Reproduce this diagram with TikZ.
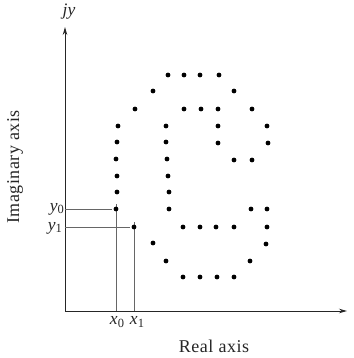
\documentclass[tikz,border=0pt]{standalone}
\usepackage{fontspec}
\setmainfont{Liberation Serif}
\newfontfamily\axislbl[LetterSpace=3]{Liberation Serif}
\usetikzlibrary{arrows.meta}
\newcommand{\lbsub}[2]{\textit{#1}\raisebox{-0.35ex}{\fontsize{12.5}{12.5}\selectfont #2}}
\begin{document}
\begin{tikzpicture}[x=1pt,y=-1pt,
  axis/.style={line width=0.9pt,draw=black!85,-{Stealth[length=8pt,width=4.5pt]}},
  guide/.style={line width=0.55pt,draw=black!60},
  dotmark/.style={fill=black,radius=2.4pt},
  lbl/.style={font=\fontsize{17.5}{20}\selectfont,text=black!85,inner sep=0pt},
  axlbl/.style={font=\fontsize{18}{20}\selectfont\axislbl,text=black!85,inner sep=0pt}]
\useasboundingbox (0,0) rectangle (353,358);
% axes
\coordinate (O) at (65,311);
\coordinate (XE) at (347,311);
\coordinate (YE) at (65,27);
\draw[axis] (O) -- (XE);
\draw[axis] (O) -- (YE);
% guide lines
\coordinate (P0) at (116,209);
\coordinate (P1) at (134,227);
\coordinate (Y0) at (65,209);
\coordinate (Y1) at (65,227);
\coordinate (X0) at (116,311);
\coordinate (X1) at (134,311);
\draw[guide] (Y0) -- ([xshift=-4pt]P0);
\draw[guide] (Y1) -- ([xshift=-4pt]P1);
\draw[guide] ([yshift=5pt]P0) -- (X0);
\draw[guide] ([yshift=5pt]P1) -- (X1);
% dots
\foreach \p in {(168,75),(184,75),(200,75),(219,75),
  (153,91),(234,91),
  (135,109),(184,109),(201,109),(218,109),(252,109),
  (118,126),(166,126),(218,126),(267,126),
  (117,142),(166,142),(218,143),(268,143),
  (116,159),(167,159),(234,160),(252,160),
  (117,176),(168,176),
  (117,192),(169,192),
  (116,209),(169,209),(251,209),(267,209),
  (134,227),(183,227),(200,227),(216,227),(234,227),(267,227),
  (153,243),(266,244),
  (166,261),(250,261),
  (183,277),(200,277),(217,277),(234,277)}
  \fill[dotmark] \p circle;
% labels
\node[lbl] (jy) at (69,12) {\textit{jy}};
\node[lbl,anchor=east] (ly0) at (64,209) {\lbsub{y}{0}};
\node[lbl,anchor=east] (ly1) at (62,228) {\lbsub{y}{1}};
\node[lbl] (lx0) at (117,322) {\lbsub{x}{0}};
\node[lbl] (lx1) at (137,322) {\lbsub{x}{1}};
\node[axlbl] (real) at (214,346) {Real axis};
\node[axlbl,rotate=90] (imag) at (15,167) {Imaginary axis};
\end{tikzpicture}
\end{document}
